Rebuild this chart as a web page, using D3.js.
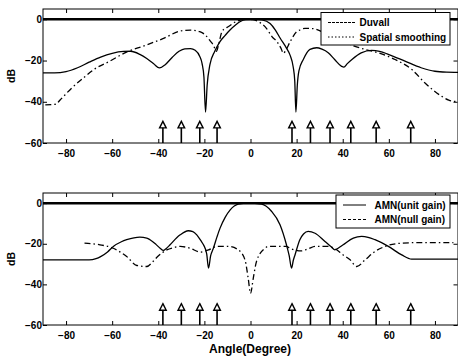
<!DOCTYPE html>
<html>
<head>
<meta charset="utf-8">
<script src="https://cdn.jsdelivr.net/npm/d3@7"></script>
<style>
  html, body { margin: 0; padding: 0; background: #fff; }
  svg text { font-family: "Liberation Sans", Arial, sans-serif; font-weight: bold; fill: #000; }
</style>
</head>
<body>
<div id="chart"></div>
<script>
// x ticks / y ticks
const X_TICKS = [-80, -60, -40, -20, 0, 20, 40, 60, 80];
const Y_TICKS = [0, -20, -40, -60];

// arrival angles marked with arrows (same in both panels)
const ARRIVALS = [-38, -30, -22, -14.5, 18, 26, 34.5, 43.5, 54.5, 69.5];

// top panel: Duvall (solid) [angle, dB]
const DUVALL = [
  [-90,-26],[-85,-26],[-80,-25.4],[-75,-23.5],[-70,-20.8],[-65,-18.3],[-60,-16.5],[-55,-15.6],
  [-52,-15.5],[-48,-17],[-45,-19],[-42,-21.6],[-39.5,-23.6],[-37,-22],[-34,-18.5],[-31,-15.5],
  [-28.5,-14.3],[-26,-14.2],[-24,-15],[-22,-18],[-21,-21.5],[-20.2,-28],[-19.5,-45],[-18.8,-32],
  [-17.6,-22],[-15.5,-15.5],[-13.3,-10.9],[-11,-7.8],[-8.9,-5.2],[-6.5,-2.8],[-4.6,-1.2],[-2,-0.2],
  [2,0],[5,-0.3],[8.5,-2],[10.8,-5.2],[12.9,-9.2],[15.6,-14],[17.2,-17.5],[18.5,-23],[19.2,-30],
  [19.7,-45],[20.3,-32],[21,-25],[22.9,-19.5],
  [25.8,-14.6],[28.7,-13.8],[31,-14.5],[33.7,-16.2],[36.5,-19.5],[39.5,-22.8],[40.5,-23.2],
  [42,-21.5],[44,-19.5],[48,-16.3],[52.5,-15.1],[56,-15.5],[60,-17.1],[67,-20.3],[74,-23.5],
  [80,-25.2],[85,-25.6],[90,-25.7]
];

// top panel: Spatial smoothing (dash-dot)
const SMOOTHING = [
  [-89,-41.5],[-84.5,-41.2],[-82.5,-39],[-77.5,-33.3],[-72,-28],[-68,-24.4],[-61,-20.3],[-54,-16],
  [-46.5,-13],[-38,-9.4],[-30.5,-5.7],[-26,-5.2],[-22,-6],[-19.6,-7.6],[-17.5,-10.5],[-16.1,-12.5],
  [-14.8,-15.5],[-14,-13],[-12.4,-6],[-11,-4.5],[-9.7,-3.6],[-6,-1],[-2,0],[1,-0.2],[4,-1.5],
  [7,-4.5],[9.3,-8.4],[11.5,-10.9],[13.2,-14],[14.3,-16.5],[15.3,-15],[17.2,-10.9],[20,-6],
  [21.4,-5.2],[23.6,-4.4],[27,-4.5],[32,-6.5],
  [36,-8.5],[40,-10.5],[45,-13],[50,-14.7],[55.5,-16.3],[62.7,-19.5],[70,-24.4],[75.7,-30.9],
  [83,-37.4],[86,-39.2],[88.7,-39.8],[90,-39.8]
];

// bottom panel: AMN(unit gain) (solid)
const UNIT_GAIN = [
  [-90,-27.9],[-70,-27.9],[-67,-27.3],[-65,-26.3],[-62,-24],[-59.5,-21.3],[-56,-19],[-53.7,-18],
  [-48,-16.7],[-45,-17.2],[-43.6,-18],[-41,-20.3],[-39.2,-22.2],[-37.8,-23.3],[-36.5,-22.3],
  [-34.9,-20.5],[-32,-17],[-30.5,-15.6],[-27,-13.6],[-25,-14],[-23.3,-15.6],[-21.5,-18.5],
  [-20.4,-20.5],[-19,-25],[-18.2,-32],[-17.3,-26],[-16.1,-22.2],[-14.5,-16.5],[-13.2,-12.3],
  [-11,-7],[-8.8,-3.3],[-5.3,-0.5],[-1,0],[4.8,-0.5],[9.1,-4],[12.8,-10.6],[15.6,-20.5],
  [16.8,-26],[17.8,-32],[18.6,-28],[19.3,-25.5],[21.4,-18],[23,-15.2],[25,-13.9],[28,-14.8],
  [32.3,-18.9],[35,-21.5],[36.6,-23],[38,-22.2],[40.2,-20.5],[44.6,-17.2],[48.2,-16.4],[51,-16.8],
  [54,-18],[59.8,-21.3],[65.6,-25.5],[69.9,-27.6],[90,-27.6]
];

// bottom panel: AMN(null gain) (dash-dot)
const NULL_GAIN = [
  [-72,-19.7],[-65.3,-20.5],[-59.5,-22.2],[-53.7,-26.3],[-49.3,-30.7],[-45,-31.2],[-42.5,-29],
  [-40.7,-26.8],[-36.3,-23],[-33,-21.8],[-30.5,-21.3],[-26.2,-22.2],[-21.8,-24.1],[-18.2,-23],
  [-14.6,-21.3],[-9.7,-21.3],[-5.3,-23],[-2.4,-27.9],[-1,-37],[0,-44.4],[1.2,-37],[2.6,-28.7],
  [6.3,-22.2],[7.7,-21.3],[12,-21.3],[15.6,-21.3],[17.1,-22.2],[22.1,-23.5],[25,-22.5],[28,-21.3],
  [33.7,-21.3],[36.6,-22.4],[40.2,-25.5],[43.2,-27.9],[46.1,-31.2],[49.7,-27.9],[54,-23.8],
  [58.4,-21.3],[65.6,-19.7],[74.3,-19.4],[88,-19.4]
];

const W = 458, H = 358;
const DASHDOT = '6,3,1.5,3';

const svg = d3.select('#chart').append('svg')
  .attr('width', W).attr('height', H)
  .attr('viewBox', `0 0 ${W} ${H}`);

function drawPanel(top, bottom, series, legend, showXLabel) {
  const x = d3.scaleLinear().domain([-90, 90]).range([43, 458]);
  const y = d3.scaleLinear().domain([-60, 5]).range([bottom, top]);
  const g = svg.append('g');

  const line = d3.line()
    .x(d => x(d[0])).y(d => y(d[1]))
    .curve(d3.curveMonotoneX);

  // thick 0 dB reference
  g.append('line')
    .attr('x1', x(-90)).attr('x2', x(90))
    .attr('y1', y(0)).attr('y2', y(0))
    .attr('stroke', '#000').attr('stroke-width', 2.5);

  series.forEach(s => {
    g.append('path')
      .datum(s.data)
      .attr('d', line)
      .attr('fill', 'none')
      .attr('stroke', '#000')
      .attr('stroke-width', 1.3)
      .attr('stroke-dasharray', s.dash || null);
  });

  // arrival arrows
  const arrows = g.selectAll('.arrow').data(ARRIVALS).enter()
    .append('g').attr('class', 'arrow')
    .attr('transform', d => `translate(${x(d)},0)`);
  arrows.append('line')
    .attr('x1', 0).attr('x2', 0)
    .attr('y1', y(-60)).attr('y2', y(-49.5) + 6)
    .attr('stroke', '#000').attr('stroke-width', 1.6);
  arrows.append('path')
    .attr('d', () => {
      const t = y(-49.5);
      return `M0,${t} L3.3,${t + 6.5} L-3.3,${t + 6.5} Z`;
    })
    .attr('fill', '#fff').attr('stroke', '#000').attr('stroke-width', 1.4);

  // box
  g.append('rect')
    .attr('x', x(-90)).attr('y', top)
    .attr('width', x(90) - x(-90)).attr('height', bottom - top)
    .attr('fill', 'none').attr('stroke', '#000').attr('stroke-width', 1);

  // axes, ticks inward
  g.append('g').attr('transform', `translate(0,${bottom})`)
    .call(d3.axisBottom(x).tickValues(X_TICKS).tickSize(-4).tickPadding(7).tickFormat(d3.format('d')))
    .call(a => a.select('.domain').remove());
  g.append('g').attr('transform', `translate(0,${top})`)
    .call(d3.axisTop(x).tickValues(X_TICKS).tickSize(-4).tickFormat(''))
    .call(a => a.select('.domain').remove());
  g.append('g').attr('transform', `translate(${x(-90)},0)`)
    .call(d3.axisLeft(y).tickValues(Y_TICKS).tickSize(-4).tickPadding(1).tickFormat(d3.format('d')))
    .call(a => a.select('.domain').remove());
  g.append('g').attr('transform', `translate(${x(90) - 0.5},0)`)
    .call(d3.axisRight(y).tickValues(Y_TICKS).tickSize(-4).tickFormat(''))
    .call(a => a.select('.domain').remove());
  g.selectAll('.tick text').attr('font-size', 10).style('font-family', null);
  g.selectAll('.tick line').attr('stroke', '#000');

  // y label
  g.append('text')
    .attr('transform', `translate(15,${(top + bottom) / 2}) rotate(-90)`)
    .attr('text-anchor', 'middle')
    .attr('font-size', 10.5)
    .text('dB');

  if (showXLabel) {
    g.append('text')
      .attr('x', 250).attr('y', bottom + 28)
      .attr('text-anchor', 'middle')
      .attr('font-size', 12)
      .text('Angle(Degree)');
  }

  // legend
  const lg = g.append('g');
  lg.append('rect')
    .attr('x', legend.x).attr('y', legend.y)
    .attr('width', legend.w).attr('height', legend.h)
    .attr('fill', '#fff').attr('stroke', '#000').attr('stroke-width', 1);
  legend.items.forEach((it, i) => {
    const cy = legend.y + 10 + i * 14.5;
    lg.append('line')
      .attr('x1', legend.lx0).attr('x2', legend.lx1)
      .attr('y1', cy).attr('y2', cy)
      .attr('stroke', '#000').attr('stroke-width', 1)
      .attr('stroke-dasharray', it.dash || null);
    lg.append('text')
      .attr('x', legend.tx).attr('y', cy + 3.6)
      .attr('font-size', 10)
      .text(it.label);
  });
}

drawPanel(9, 143,
  [{ data: DUVALL }, { data: SMOOTHING, dash: DASHDOT }],
  { x: 321, y: 12.5, w: 129, h: 32.5, lx0: 328, lx1: 355, tx: 359.5,
    items: [{ label: 'Duvall', dash: '3,1' }, { label: 'Spatial smoothing', dash: '1.5,2' }] },
  false);

drawPanel(193, 325,
  [{ data: UNIT_GAIN }, { data: NULL_GAIN, dash: DASHDOT }],
  { x: 336, y: 195, w: 114, h: 33, lx0: 343, lx1: 366, tx: 374.5,
    items: [{ label: 'AMN(unit gain)' }, { label: 'AMN(null gain)', dash: '3,2' }] },
  true);
</script>
</body>
</html>
